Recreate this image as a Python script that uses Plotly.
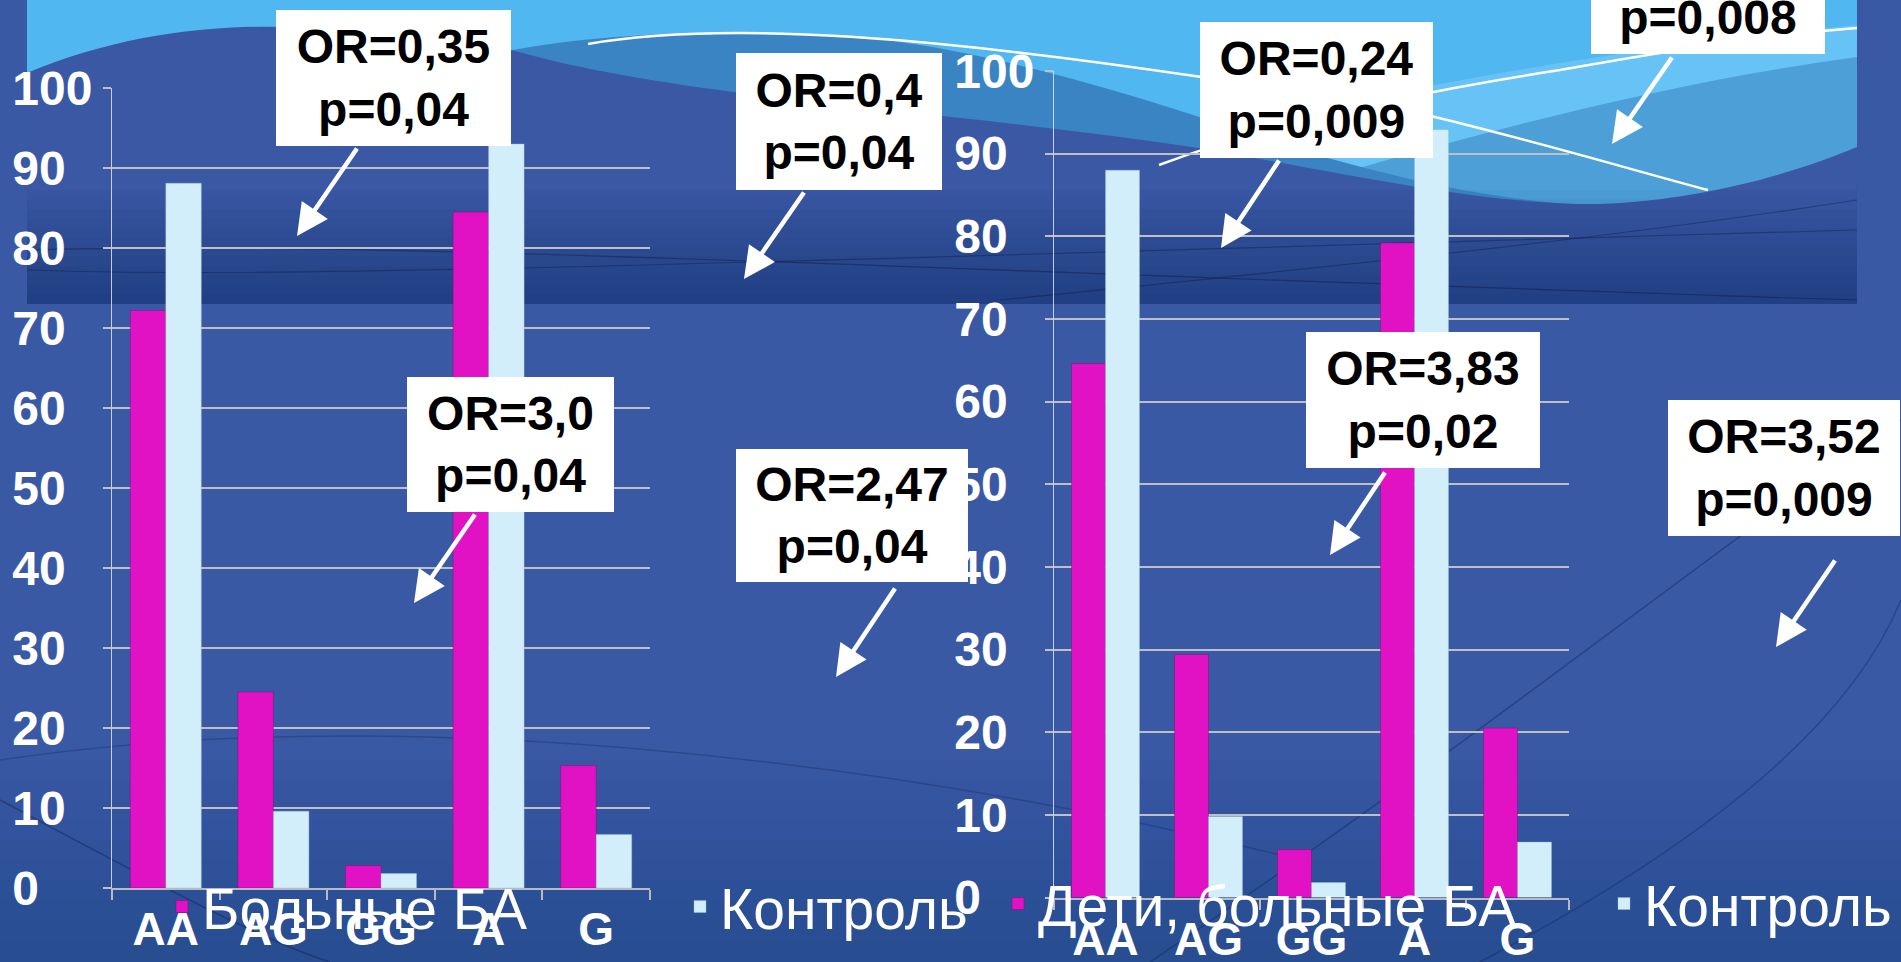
import plotly.graph_objects as go

W, H = 1901, 962

# ---- data -------------------------------------------------------------
categories = ["AA", "AG", "GG", "A", "G"]
adults_asthma = [72.2, 24.5, 2.8, 84.5, 15.3]      # Больные БА
adults_control = [88.1, 9.6, 1.8, 93.0, 6.7]       # Контроль
children_asthma = [64.6, 29.4, 5.8, 79.2, 20.5]    # Дети, больные БА
children_control = [88.0, 9.8, 1.8, 92.9, 6.7]     # Контроль

y_ticks = list(range(0, 101, 10))

or_labels = [
    "OR=0,35<br>p=0,04",
    "OR=0,4<br>p=0,04",
    "OR=3,0<br>p=0,04",
    "OR=2,47<br>p=0,04",
    "OR=0,24<br>p=0,009",
    "\u00a0<br>p=0,008",
    "OR=3,83<br>p=0,02",
    "OR=3,52<br>p=0,009",
]

# ---- styling ----------------------------------------------------------
MAGENTA = "#e012c3"
PALE = "#d3eefb"
BG = "#3a59a5"
FONT = "Liberation Sans"


def px(x):
    return x / W


def py(y):
    return 1 - y / H


def path(*segs):
    out = []
    for s in segs:
        if isinstance(s, str):
            out.append(s)
        else:
            out.append(f"{px(s[0]):.5f},{py(s[1]):.5f}")
    return " ".join(out)


# left-aligned tick text: pad with no-break spaces (half a digit each)
def pad(v):
    s = str(v)
    return s + "\u00a0" * (2 * (3 - len(s)))


tick_text = [pad(v) for v in y_ticks]

fig = go.Figure()
fig.add_bar(x=categories, y=adults_asthma, name="Больные БА", marker_color=MAGENTA,
            xaxis="x", yaxis="y", legend="legend",
            marker_line=dict(color="rgba(120,0,100,0.35)", width=1))
fig.add_bar(x=categories, y=adults_control, name="Контроль", marker_color=PALE,
            xaxis="x", yaxis="y", legend="legend2",
            marker_line=dict(color="rgba(150,190,210,0.4)", width=1))
fig.add_bar(x=categories, y=children_asthma, name="Дети, больные БА", marker_color=MAGENTA,
            xaxis="x2", yaxis="y2", legend="legend3",
            marker_line=dict(color="rgba(120,0,100,0.35)", width=1))
fig.add_bar(x=categories, y=children_control, name="Контроль", marker_color=PALE,
            xaxis="x2", yaxis="y2", legend="legend4",
            marker_line=dict(color="rgba(150,190,210,0.4)", width=1))

xax = dict(showline=True, linecolor="#b9b9c0", linewidth=2, ticks="outside",
           tickson="boundaries", ticklen=10, tickcolor="#b9b9c0", tickwidth=2,
           showgrid=False, tickfont=dict(family=FONT, size=46, color="white", weight="bold"),
           ticklabelstandoff=0, automargin=False)
yax = dict(range=[0, 100], tickvals=y_ticks, ticktext=tick_text, showgrid=True,
           gridcolor="#bfc0c6", gridwidth=2, zeroline=False, showline=True,
           linecolor="rgba(225,228,240,0.85)", linewidth=1, ticks="outside", ticklen=8,
           tickcolor="#bfc0c6", tickwidth=2,
           tickfont=dict(family=FONT, size=48, color="white", weight="bold"),
           ticklabelstandoff=1, automargin=False)

# ---- background artwork ----------------------------------------------
shapes = []


def add_fill(p, color, opacity=1.0):
    shapes.append(dict(type="path", xref="paper", yref="paper", path=p, fillcolor=color,
                       opacity=opacity, line=dict(width=0), layer="below"))


def add_line(p, color, width):
    shapes.append(dict(type="path", xref="paper", yref="paper", path=p,
                       line=dict(color=color, width=width), layer="below"))


def add_rect(x0, y0, x1, y1, color, opacity=1.0):
    shapes.append(dict(type="rect", xref="paper", yref="paper", x0=px(x0), x1=px(x1),
                       y0=py(y1), y1=py(y0), fillcolor=color, opacity=opacity,
                       line=dict(width=0), layer="below"))


# slide bottom shading
for i in range(10):
    add_rect(0, 760 + i * 20, W, H, "#0c1a4c", 0.025)

# faint decorative arcs on the slide
add_line(path("M", (0, 800), "C", (150, 880), (260, 940), (330, 962)), "rgba(20,32,85,0.45)", 1.5)
add_line(path("M", (0, 760), "C", (400, 700), (900, 760), (1300, 860)), "rgba(20,32,85,0.3)", 1.5)
add_line(path("M", (1150, 962), "C", (1450, 760), (1700, 560), (1901, 420)), "rgba(20,32,85,0.4)", 1.5)
add_line(path("M", (1480, 962), "C", (1750, 820), (1860, 700), (1901, 600)), "rgba(20,32,85,0.35)", 1.5)

# header band
X0, X1, YB = 27, 1857, 304
add_rect(X0, 0, X1, YB, "#51b7f0")
add_fill(path("M", (1150, YB), "L", (1150, 150), "C", (1350, 95), (1600, 50), (X1, 25),
              "L", (X1, YB), "Z"), "#67c3f5")
add_fill(path("M", (1250, YB), "L", (1250, 200), "C", (1450, 140), (1650, 85), (X1, 57),
              "L", (X1, YB), "Z"), "#4d9fd8")
add_fill(path("M", (470, YB), "L", (470, 60), "C", (560, 35), (700, 28), (850, 36),
              "C", (1000, 50), (1150, 100), (1300, 150), "C", (1420, 185), (1520, 205), (1620, 206),
              "L", (1620, YB), "Z"), "#3b84c4")
add_fill(path("M", (X0, 73), "C", (110, 38), (200, 25), (280, 27),
              "C", (400, 29), (470, 38), (530, 55), "C", (700, 100), (950, 110), (1212, 150),
              "C", (1400, 185), (1500, 205), (1600, 204), "C", (1700, 200), (1790, 175), (X1, 147),
              "L", (X1, YB), "L", (X0, YB), "Z"), "#3a58a4")
for i in range(12):
    add_rect(X0, 190 + i * 9.5, X1, YB, "#0c1a4a", 0.035)
add_line(path("M", (X0, 250), "C", (400, 240), (900, 270), (X1, 300)), "rgba(15,25,70,0.45)", 1.2)
add_line(path("M", (X0, 270), "C", (300, 280), (800, 260), (X1, 230)), "rgba(15,25,70,0.4)", 1.2)
add_line(path("M", (1000, 300), "C", (1300, 270), (1600, 240), (X1, 200)), "rgba(15,25,70,0.4)", 1.2)

# white streaks
add_line(path("M", (588, 44), "C", (680, 28), (800, 30), (950, 45),
              "C", (1100, 60), (1300, 90), (1435, 117), "C", (1550, 145), (1650, 175), (1708, 190)),
         "white", 2.5)
add_line(path("M", (1159, 165), "C", (1280, 120), (1430, 90), (1560, 70),
              "C", (1700, 45), (1800, 32), (X1, 28)), "white", 2.5)

# ---- callouts ---------------------------------------------------------
annotations = []
boxes = [  # centre x, centre y, width, height
    (393.5, 78, 235, 136),
    (839, 121.5, 206, 137),
    (510.5, 444.5, 207, 135),
    (852, 515.5, 232, 133),
    (1316.5, 90, 233, 136),
    (1708, -13.5, 234, 135),
    (1423, 400, 234, 136),
    (1784, 468, 232, 136),
]
arrows = [  # tail x, tail y, head x, head y
    (358, 147, 297, 236),
    (805, 191, 744, 279),
    (476, 513, 414, 603),
    (896, 587, 836, 677),
    (1280, 159, 1221, 248),
    (1673, 56, 1612, 144),
    (1386, 471, 1330, 555),
    (1836, 559, 1776, 647),
]
for text, (cx, cy, bw, bh) in zip(or_labels, boxes):
    annotations.append(dict(xref="paper", yref="paper", x=px(cx), y=py(cy), xanchor="center",
                            yanchor="middle", text=text, showarrow=False, width=bw, height=bh,
                            bgcolor="white", borderpad=0, borderwidth=0,
                            font=dict(family=FONT, size=48, color="black", weight="bold")))
for tx, ty, hx, hy in arrows:
    annotations.append(dict(xref="paper", yref="paper", x=px(hx), y=py(hy), axref="pixel",
                            ayref="pixel", ax=tx - hx, ay=ty - hy, text="", showarrow=True,
                            arrowhead=2, arrowsize=1.4, arrowwidth=4.5, arrowcolor="white",
                            font=dict(size=1)))

leg_font = dict(family=FONT, size=57, color="white")


def legend_at(x, y):
    return dict(x=px(x), y=py(y), xanchor="left", yanchor="middle", orientation="h",
                bgcolor="rgba(0,0,0,0)", font=leg_font, itemwidth=30, borderwidth=0)


fig.update_layout(
    width=W, height=H, margin=dict(l=0, r=0, t=0, b=0, autoexpand=False),
    paper_bgcolor=BG, plot_bgcolor="rgba(0,0,0,0)",
    barmode="group", bargap=0.34, bargroupgap=0,
    xaxis=dict(domain=[px(112), px(650)], anchor="y", **xax),
    yaxis=dict(domain=[py(888), py(88)], anchor="x", **yax),
    xaxis2=dict(domain=[px(1054), px(1569)], anchor="y2", **xax),
    yaxis2=dict(domain=[py(897.5), py(71)], anchor="x2", **yax),
    legend=legend_at(162, 907),
    legend2=legend_at(680, 907),
    legend3=legend_at(998, 904),
    legend4=legend_at(1604, 904),
    shapes=shapes,
    annotations=annotations,
    showlegend=True,
)

fig.write_html("out.html")
